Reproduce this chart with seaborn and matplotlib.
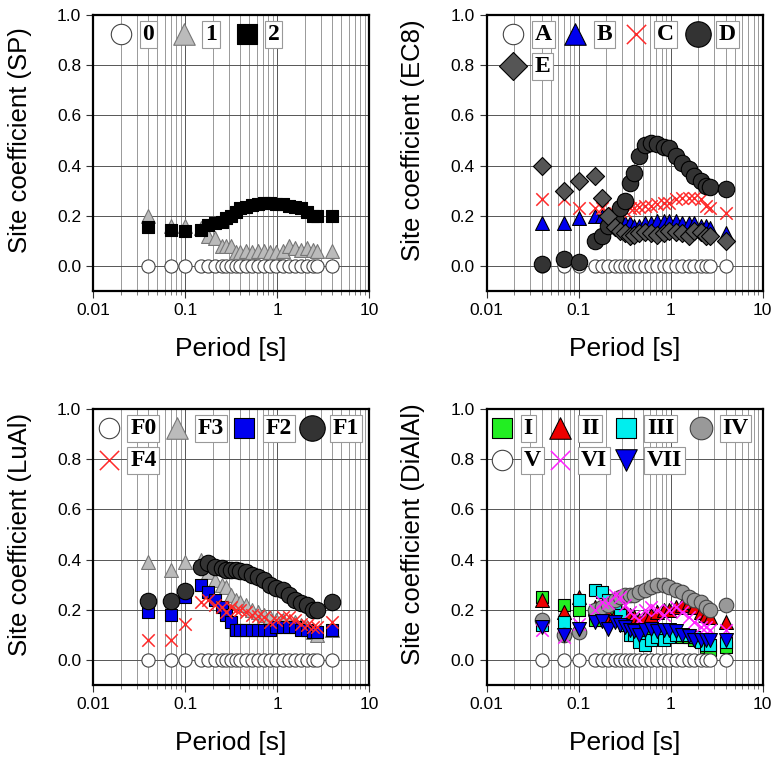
import numpy as np
import pandas as pd
import matplotlib
matplotlib.use("Agg")
import matplotlib.pyplot as plt
import seaborn as sns
from matplotlib.ticker import FixedLocator, FixedFormatter, LogLocator, NullFormatter

sns.set_theme(style="white")
plt.rcParams['font.family'] = ['Liberation Sans', 'DejaVu Sans']
plt.rcParams['text.color'] = 'black'
plt.rcParams['axes.labelcolor'] = 'black'

periods = [0.04, 0.07, 0.1, 0.15, 0.18, 0.21, 0.25, 0.28, 0.32, 0.36, 0.4, 0.46, 0.53,
           0.62, 0.72, 0.84, 0.97, 1.15, 1.35, 1.57, 1.82, 2.12, 2.46, 2.72, 4.0]
zeros = [0.0, 0.0, 0.0, 0.0, 0.0, 0.0, 0.0, 0.0, 0.0, 0.0, 0.0, 0.0, 0.0,
         0.0, 0.0, 0.0, 0.0, 0.0, 0.0, 0.0, 0.0, 0.0, 0.0, 0.0, 0.0]

# Panel 1 (SP)
sp_0 = zeros
sp_1 = [0.20, 0.16, 0.16, 0.15, 0.12, 0.11, 0.08, 0.08, 0.08, 0.055, 0.055, 0.058, 0.055,
        0.058, 0.06, 0.055, 0.057, 0.06, 0.08, 0.07, 0.065, 0.07, 0.065, 0.06, 0.06]
sp_2 = [0.155, 0.143, 0.14, 0.143, 0.163, 0.17, 0.175, 0.19, 0.20, 0.215, 0.23, 0.235, 0.243,
        0.247, 0.25, 0.25, 0.247, 0.245, 0.24, 0.235, 0.23, 0.215, 0.20, 0.20, 0.20]

# Panel 2 (EC8)
ec8_A = zeros
ec8_B = [0.17, 0.17, 0.19, 0.20, 0.20, 0.19, 0.18, 0.18, 0.17, 0.17, 0.16, 0.16, 0.17,
         0.17, 0.18, 0.18, 0.18, 0.18, 0.17, 0.17, 0.17, 0.16, 0.16, 0.15, 0.13]
ec8_C = [0.265, 0.265, 0.23, 0.23, 0.23, 0.21, 0.21, 0.22, 0.22, 0.23, 0.23, 0.235, 0.24,
         0.24, 0.245, 0.25, 0.25, 0.265, 0.27, 0.27, 0.27, 0.265, 0.24, 0.23, 0.21]
ec8_D = [0.008, 0.028, 0.016, 0.10, 0.12, 0.16, 0.19, 0.23, 0.26, 0.33, 0.37, 0.44, 0.48,
         0.49, 0.485, 0.475, 0.47, 0.44, 0.41, 0.385, 0.36, 0.34, 0.32, 0.315, 0.305]
ec8_E = [0.40, 0.30, 0.34, 0.36, 0.27, 0.20, 0.155, 0.14, 0.13, 0.12, 0.125, 0.13, 0.135,
         0.13, 0.125, 0.13, 0.14, 0.135, 0.13, 0.12, 0.14, 0.135, 0.12, 0.12, 0.10]

# Panel 3 (LuAl)
lu_F0 = zeros
lu_F3 = [0.39, 0.36, 0.39, 0.40, 0.35, 0.32, 0.30, 0.29, 0.26, 0.24, 0.23, 0.22, 0.20,
         0.19, 0.18, 0.17, 0.16, 0.16, 0.15, 0.15, 0.14, 0.13, 0.11, 0.10, 0.12]
lu_F2 = [0.19, 0.18, 0.25, 0.30, 0.27, 0.24, 0.21, 0.18, 0.15, 0.12, 0.12, 0.12, 0.12,
         0.12, 0.12, 0.12, 0.13, 0.13, 0.13, 0.13, 0.12, 0.12, 0.11, 0.11, 0.12]
lu_F1 = [0.235, 0.235, 0.275, 0.37, 0.386, 0.37, 0.365, 0.357, 0.357, 0.357, 0.354, 0.35, 0.34,
         0.33, 0.32, 0.30, 0.285, 0.28, 0.26, 0.24, 0.225, 0.22, 0.20, 0.20, 0.23]
lu_F4 = [0.08, 0.08, 0.145, 0.23, 0.24, 0.22, 0.21, 0.19, 0.21, 0.20, 0.20, 0.19, 0.18,
         0.175, 0.17, 0.15, 0.16, 0.17, 0.17, 0.16, 0.145, 0.14, 0.13, 0.13, 0.15]

# Panel 4 (DiAlAl)
di_I = [0.25, 0.22, 0.20, 0.16, 0.16, 0.16, 0.17, 0.16, 0.15, 0.14, 0.13, 0.12, 0.12,
        0.11, 0.11, 0.10, 0.10, 0.10, 0.09, 0.09, 0.08, 0.07, 0.05, 0.04, 0.05]
di_II = [0.24, 0.19, 0.25, 0.21, 0.20, 0.18, 0.18, 0.19, 0.19, 0.18, 0.17, 0.16, 0.17,
         0.18, 0.19, 0.20, 0.20, 0.21, 0.22, 0.23, 0.21, 0.19, 0.18, 0.17, 0.15]
di_III = [0.14, 0.15, 0.24, 0.28, 0.27, 0.24, 0.22, 0.18, 0.14, 0.10, 0.10, 0.07, 0.06,
          0.08, 0.09, 0.08, 0.09, 0.10, 0.10, 0.10, 0.09, 0.07, 0.06, 0.06, 0.07]
di_IV = [0.16, 0.10, 0.11, 0.20, 0.21, 0.22, 0.24, 0.25, 0.26, 0.26, 0.26, 0.27, 0.28,
         0.29, 0.30, 0.30, 0.29, 0.28, 0.27, 0.25, 0.24, 0.23, 0.21, 0.20, 0.22]
di_V = zeros
di_VI = [0.12, 0.09, 0.145, 0.20, 0.23, 0.225, 0.26, 0.25, 0.22, 0.19, 0.175, 0.16, 0.20,
         0.21, 0.20, 0.18, 0.20, 0.21, 0.19, 0.17, 0.15, 0.13, 0.13, 0.12, 0.12]
di_VII = [0.13, 0.10, 0.125, 0.15, 0.155, 0.125, 0.15, 0.14, 0.13, 0.12, 0.115, 0.10, 0.12,
          0.125, 0.115, 0.12, 0.12, 0.115, 0.10, 0.095, 0.08, 0.08, 0.08, 0.08, 0.08]

x_ticks = [0.01, 0.1, 1, 10]
x_tick_labels = ["0.01", "0.1", "1", "10"]
y_ticks = [0.0, 0.2, 0.4, 0.6, 0.8, 1.0]
y_tick_labels = ["0.0", "0.2", "0.4", "0.6", "0.8", "1.0"]

# style: (label, values, marker, face, edge, size, linewidth)
panels = [
    dict(ylabel="Site coefficient (SP)",
         series=[("0", sp_0, "o", "white", "#444444", 90, 0.8),
                 ("1", sp_1, "^", "#bbbbbb", "#777777", 100, 0.8),
                 ("2", sp_2, "s", "black", "black", 80, 0.8)],
         order=["0", "1", "2"], ncol=3, colsp=0.75, dx=0.03),
    dict(ylabel="Site coefficient (EC8)",
         series=[("A", ec8_A, "o", "white", "#444444", 90, 0.8),
                 ("B", ec8_B, "^", "#0000ee", "black", 100, 0.8),
                 ("C", ec8_C, "x", "#ff2a2a", "#ff2a2a", 80, 1.1),
                 ("D", ec8_D, "o", "#333333", "black", 140, 0.8),
                 ("E", ec8_E, "D", "#555555", "black", 85, 0.8)],
         order=["A", "E", "B", "C", "D"], ncol=4, colsp=0.5, dx=0.025),
    dict(ylabel="Site coefficient (LuAl)",
         series=[("F0", lu_F0, "o", "white", "#444444", 90, 0.8),
                 ("F3", lu_F3, "^", "#bbbbbb", "#777777", 100, 0.8),
                 ("F2", lu_F2, "s", "#0000ee", "black", 80, 0.8),
                 ("F1", lu_F1, "o", "#333333", "black", 140, 0.8),
                 ("F4", lu_F4, "x", "#ff2a2a", "#ff2a2a", 80, 1.1)],
         order=["F0", "F4", "F3", "F2", "F1"], ncol=4, colsp=0.35, dx=-0.015),
    dict(ylabel="Site coefficient (DiAlAl)",
         series=[("I", di_I, "s", "#22ee22", "black", 80, 0.8),
                 ("II", di_II, "^", "#ee0000", "black", 100, 0.8),
                 ("III", di_III, "s", "#00eeee", "black", 80, 0.8),
                 ("IV", di_IV, "o", "#999999", "#444444", 110, 0.8),
                 ("V", di_V, "o", "white", "#444444", 90, 0.8),
                 ("VI", di_VI, "x", "#ff22ff", "#ff22ff", 80, 1.1),
                 ("VII", di_VII, "v", "#0000ee", "black", 100, 0.8)],
         order=["I", "V", "II", "VI", "III", "VII", "IV"], ncol=4, colsp=0.3, dx=-0.015),
]

W, H = 779, 765
fig = plt.figure(figsize=(W / 100, H / 100), dpi=100)
fig.patch.set_facecolor("white")

aw = 276 / W
ah = 276 / H
positions = [(93 / W, 1 - 291 / H), (486.5 / W, 1 - 291 / H),
             (93 / W, 1 - 685 / H), (486.5 / W, 1 - 685 / H)]

for spec, (x0, y0) in zip(panels, positions):
    ax = fig.add_axes([x0, y0, aw, ah])
    ax.set_xscale("log")
    ax.set_xlim(0.01, 10)
    ax.set_ylim(-0.1, 1.0)
    ax.set_facecolor("white")
    ax.set_axisbelow(True)
    ax.xaxis.set_major_locator(FixedLocator(x_ticks))
    ax.xaxis.set_major_formatter(FixedFormatter(x_tick_labels))
    ax.xaxis.set_minor_locator(LogLocator(base=10, subs=np.arange(2, 10)))
    ax.xaxis.set_minor_formatter(NullFormatter())
    ax.yaxis.set_major_locator(FixedLocator(y_ticks))
    ax.yaxis.set_major_formatter(FixedFormatter(y_tick_labels))
    ax.grid(which="major", color="#555555", linewidth=0.7)
    ax.grid(which="minor", axis="x", color="#999999", linewidth=0.7)
    for sp in ax.spines.values():
        sp.set_visible(True)
        sp.set_color("black")
        sp.set_linewidth(1.6)
    ax.tick_params(axis="both", which="major", direction="out", length=5, width=0.8,
                   color="#333333", labelsize=12.5, labelcolor="black", bottom=True, left=True)
    ax.tick_params(axis="x", which="minor", direction="out", length=3, width=0.6,
                   color="#666666", bottom=True)

    for (lab, vals, mk, fc, ec, s, lw) in spec["series"]:
        df = pd.DataFrame({"period": periods, "value": vals})
        if mk == "x":
            sns.scatterplot(data=df, x="period", y="value", marker=mk, color=fc, s=s,
                            linewidth=lw, ax=ax, label=lab, zorder=3)
        else:
            sns.scatterplot(data=df, x="period", y="value", marker=mk, color=fc, edgecolor=ec,
                            s=s, linewidth=lw, ax=ax, label=lab, zorder=3)

    handles, labels = ax.get_legend_handles_labels()
    hmap = dict(zip(labels, handles))
    leg = ax.legend([hmap[k] for k in spec["order"]], spec["order"], ncol=spec["ncol"],
                    loc="upper left", bbox_to_anchor=(spec["dx"], 1.0), frameon=False,
                    markerscale=1.55, handlelength=1.0, handletextpad=0.4,
                    columnspacing=spec["colsp"], labelspacing=0.45, borderaxespad=0.0,
                    borderpad=0.35,
                    prop={"family": "Liberation Serif", "weight": "bold", "size": 17})
    for t in leg.get_texts():
        t.set_bbox(dict(boxstyle="square,pad=0.12", facecolor="white",
                        edgecolor="#999999", linewidth=0.8))
    ax.set_xlabel("Period [s]", fontsize=19, labelpad=14, color="black")
    ax.set_ylabel(spec["ylabel"], fontsize=18.5, color="black")
    ax.yaxis.set_label_coords(-0.222, 0.6 / 1.1)

fig.savefig("out.png", dpi=100, facecolor="white")
